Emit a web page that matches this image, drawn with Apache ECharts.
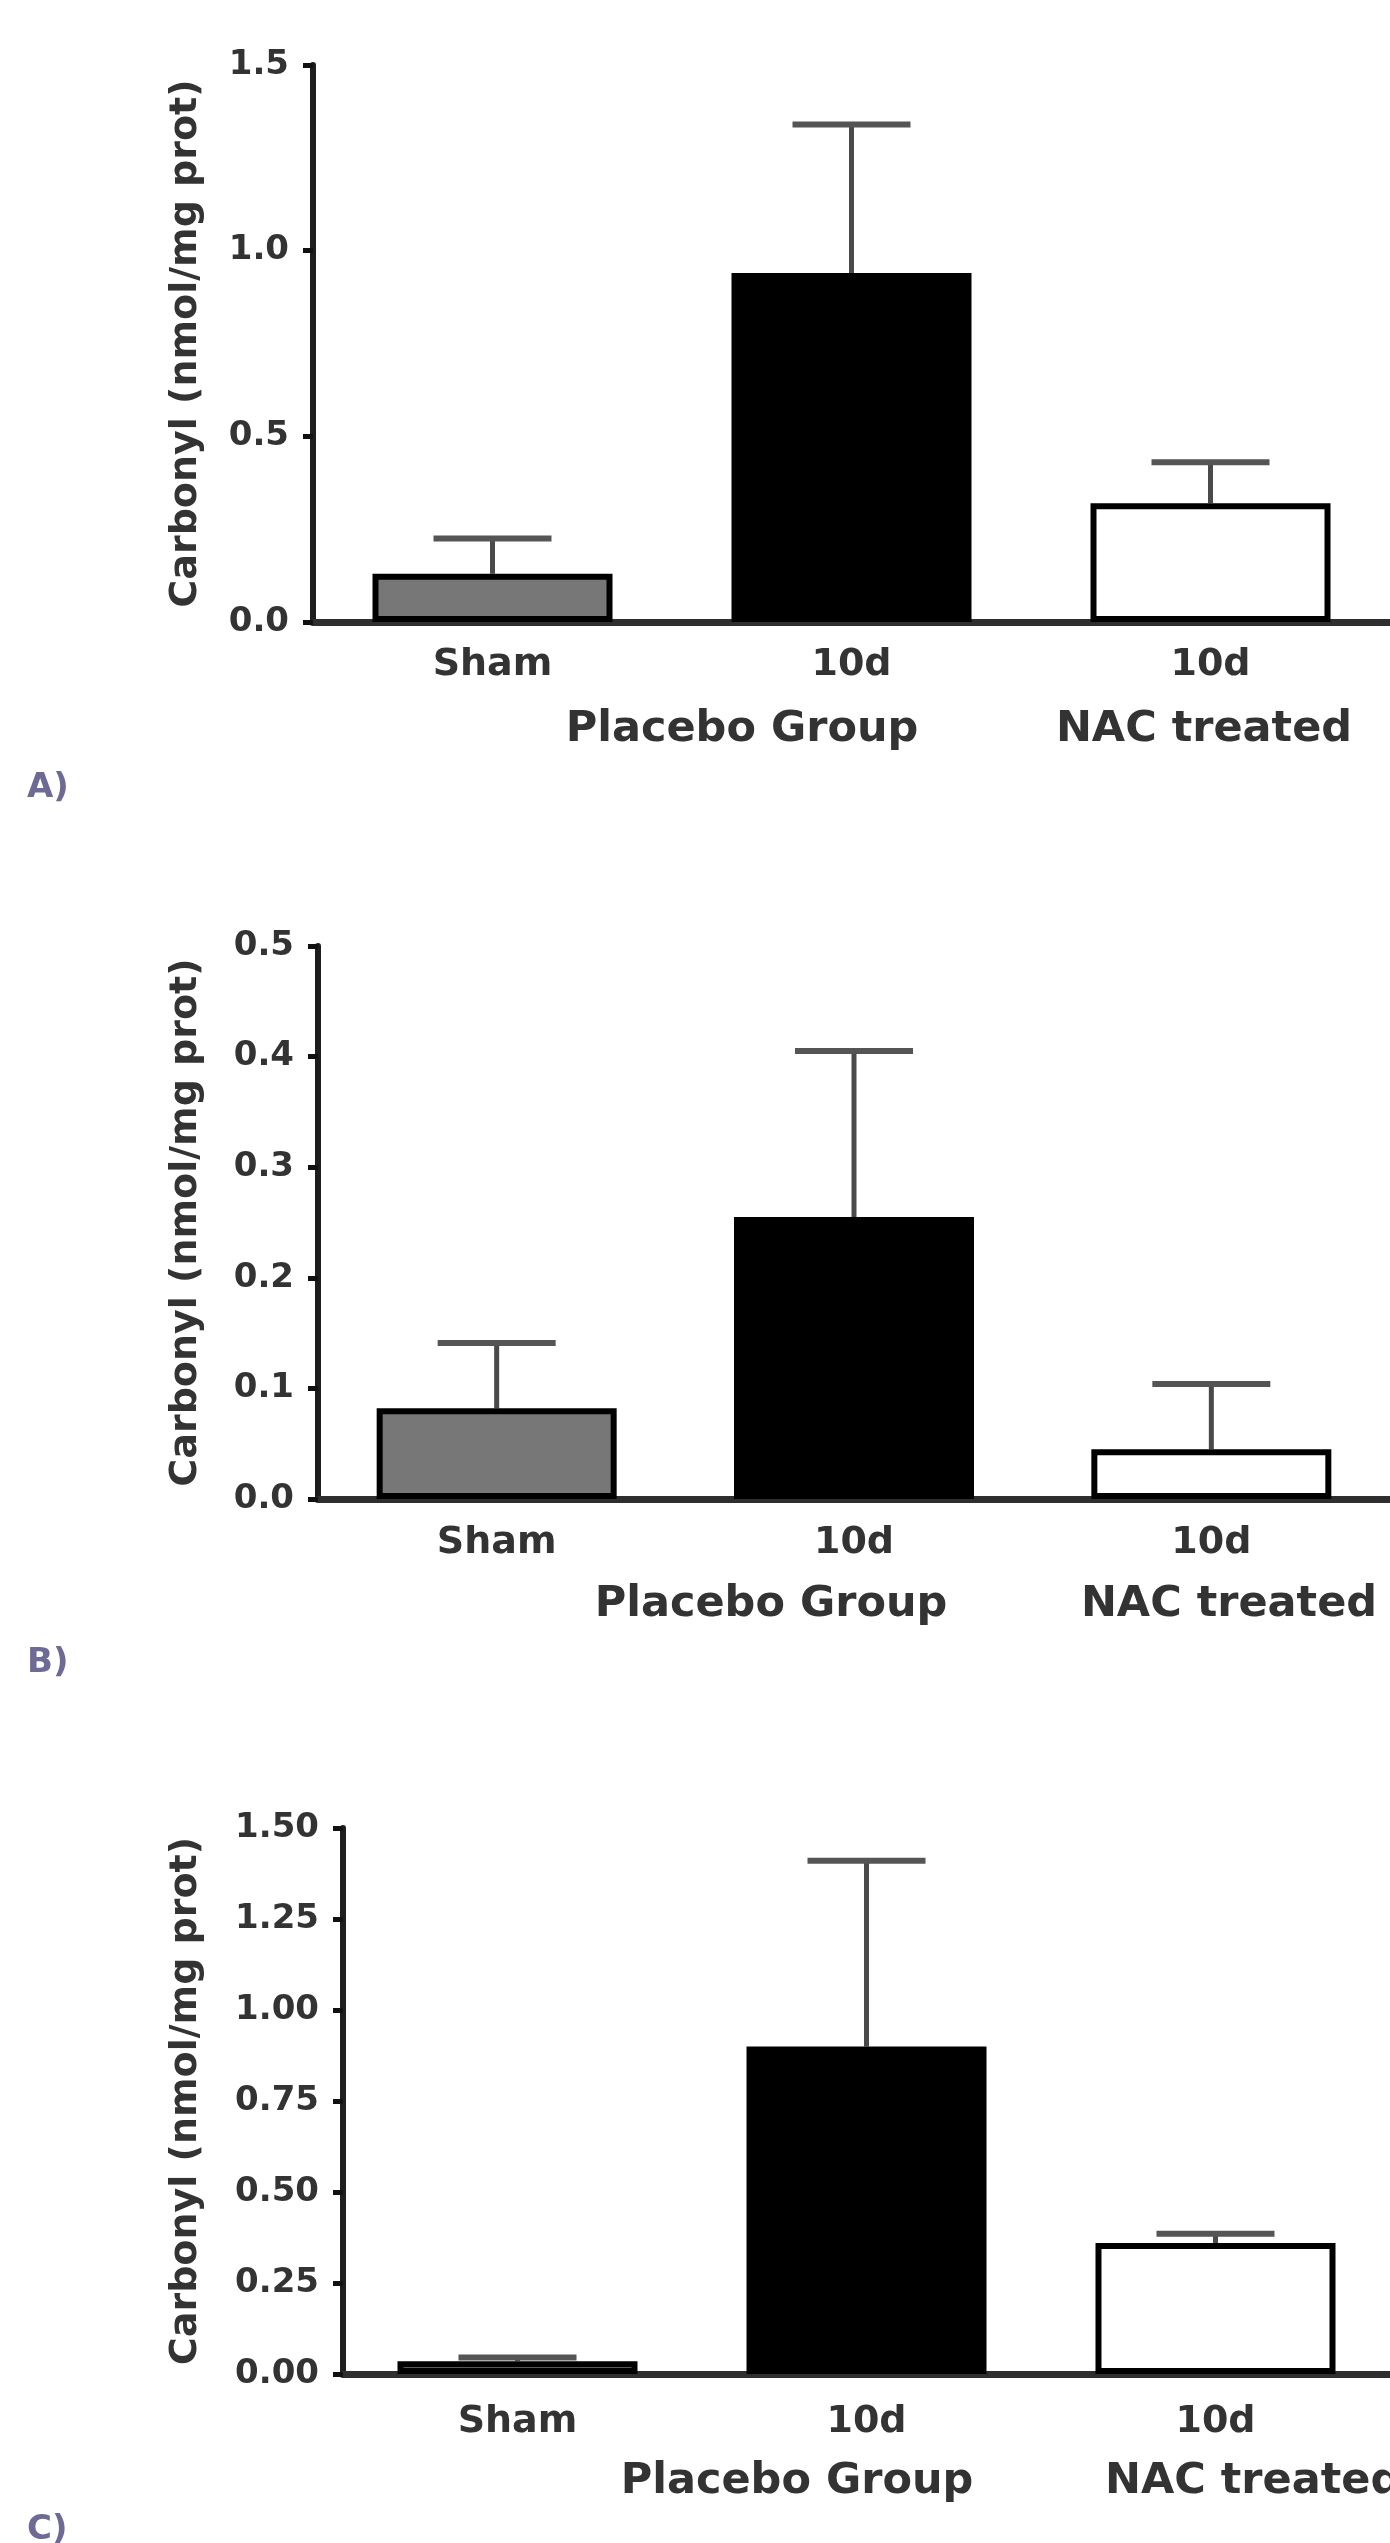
<!DOCTYPE html>
<html>
<head>
<meta charset="utf-8">
<script src="https://cdn.jsdelivr.net/npm/echarts@6/dist/echarts.min.js"></script>
<style>
  html, body { margin: 0; padding: 0; background: #ffffff; }
  #chart { width: 1390px; height: 2543px; }
</style>
</head>
<body>
<div id="chart"></div>
<script>
// ---- data ----
const categories = ['Sham', '10d', '10d'];
const groupLabels = ['Placebo Group', 'NAC treated'];
const panelLetters = ['A)', 'B)', 'C)'];
const yTitle = 'Carbonyl (nmol/mg prot)';

const meanA = [0.13, 0.94, 0.32];
const upperA = [0.225, 1.34, 0.43];
const meanB = [0.082, 0.255, 0.045];
const upperB = [0.141, 0.405, 0.104];
const meanC = [0.035, 0.90, 0.36];
const upperC = [0.045, 1.41, 0.385];

const yTicksA = [0, 0.5, 1.0, 1.5];
const yTicksB = [0, 0.1, 0.2, 0.3, 0.4, 0.5];
const yTicksC = [0, 0.25, 0.5, 0.75, 1.0, 1.25, 1.5];

// ---- styles ----
const FONT = 'DejaVu Sans';
const fills = ['#777777', '#000000', '#ffffff'];
const textColor = '#333333';

const grids = [
  { left: 313, top: 65, width: 1080, height: 557 },
  { left: 318, top: 946, width: 1076, height: 553 },
  { left: 343, top: 1828, width: 1065, height: 546 }
];
const ticks = [yTicksA, yTicksB, yTicksC];
const decimals = [1, 1, 2];
const means = [meanA, meanB, meanC];
const uppers = [upperA, upperB, upperC];
const nameGaps = [108, 113, 138];
const catMargins = [24, 25, 29];

const xAxes = grids.map((g, i) => ({
  type: 'category',
  gridIndex: i,
  data: categories,
  boundaryGap: true,
  axisLine: { show: true, lineStyle: { color: '#2e2e2e', width: 7 } },
  axisTick: { show: false },
  axisLabel: {
    margin: catMargins[i],
    fontFamily: FONT, fontWeight: 'bold', fontSize: 38, color: textColor
  },
  splitLine: { show: false }
}));

const yAxes = grids.map((g, i) => {
  const t = ticks[i];
  return {
    type: 'value',
    gridIndex: i,
    min: t[0],
    max: t[t.length - 1],
    interval: t[1] - t[0],
    name: yTitle,
    nameLocation: 'middle',
    nameRotate: 90,
    nameGap: nameGaps[i],
    nameTextStyle: { fontFamily: FONT, fontWeight: 'bold', fontSize: 38, color: textColor },
    axisLine: { show: true, lineStyle: { color: '#1e1e1e', width: 6 } },
    axisTick: { show: true, inside: false, length: 10, lineStyle: { color: '#111', width: 5 } },
    axisLabel: {
      margin: 24,
      fontFamily: FONT, fontWeight: 'bold', fontSize: 34, color: textColor,
      formatter: v => Number(v).toFixed(decimals[i])
    },
    splitLine: { show: false }
  };
});

const series = [];
grids.forEach((g, i) => {
  series.push({
    type: 'bar',
    xAxisIndex: i, yAxisIndex: i,
    barWidth: 240,
    z: 3,
    data: means[i].map((v, k) => ({
      value: v,
      itemStyle: { color: fills[k], borderColor: '#000', borderWidth: 6 }
    }))
  });
  series.push({
    type: 'custom',
    xAxisIndex: i, yAxisIndex: i,
    z: 2,
    data: means[i].map((v, k) => [k, v, uppers[i][k]]),
    renderItem: function (params, api) {
      const c = api.value(0);
      const p1 = api.coord([c, api.value(1)]);
      const p2 = api.coord([c, api.value(2)]);
      const half = 59;
      return {
        type: 'group',
        children: [
          { type: 'line', shape: { x1: p1[0], y1: p1[1], x2: p2[0], y2: p2[1] },
            style: { stroke: '#4a4a4a', lineWidth: 5 } },
          { type: 'line', shape: { x1: p2[0] - half, y1: p2[1], x2: p2[0] + half, y2: p2[1] },
            style: { stroke: '#555555', lineWidth: 6 } }
        ]
      };
    }
  });
});

function txt(text, x, y, size, align, color) {
  return {
    type: 'text', x: x, y: y, z: 10,
    style: {
      text: text, fontFamily: FONT, fontWeight: 'bold', fontSize: size,
      fill: color || textColor,
      textAlign: align, align: align,
      textVerticalAlign: 'middle', verticalAlign: 'middle'
    }
  };
}

const graphic = [
  txt(groupLabels[0], 742, 730, 43, 'center'),
  txt(groupLabels[1], 1204, 730, 43, 'center'),
  txt(groupLabels[0], 771, 1605, 43, 'center'),
  txt(groupLabels[1], 1229, 1605, 43, 'center'),
  txt(groupLabels[0], 797, 2482, 43, 'center'),
  txt(groupLabels[1], 1105, 2482, 43, 'left'),
  txt(panelLetters[0], 27, 788, 34, 'left', '#6d6a96'),
  txt(panelLetters[1], 27, 1663, 34, 'left', '#6d6a96'),
  txt(panelLetters[2], 27, 2530, 34, 'left', '#6d6a96')
];

const chart = echarts.init(document.getElementById('chart'), null, { renderer: 'canvas' });
chart.setOption({
  backgroundColor: '#ffffff',
  animation: false,
  grid: grids.map(g => Object.assign({ containLabel: false }, g)),
  xAxis: xAxes,
  yAxis: yAxes,
  series: series,
  graphic: graphic
});
</script>
</body>
</html>
